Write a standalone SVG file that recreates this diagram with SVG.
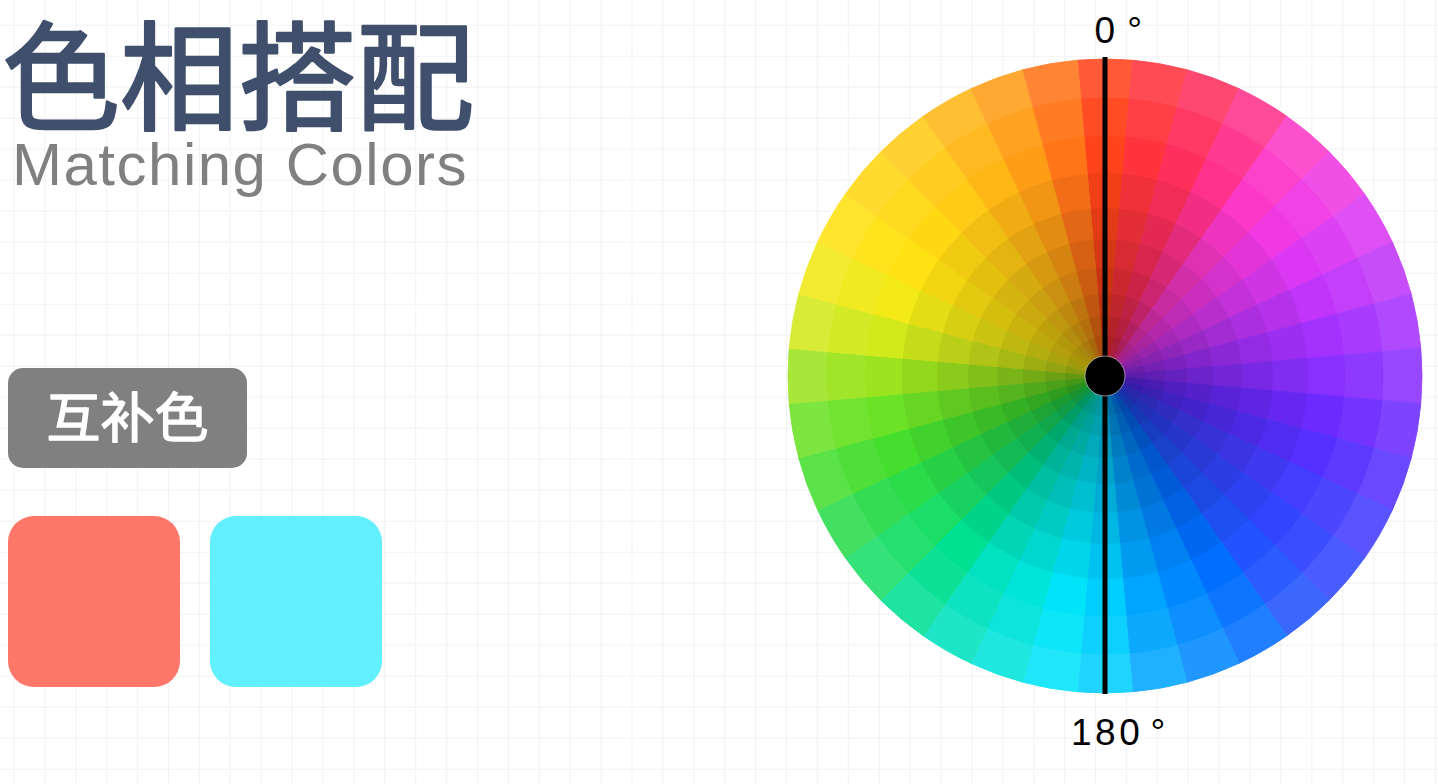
<svg xmlns="http://www.w3.org/2000/svg" xmlns:xlink="http://www.w3.org/1999/xlink" width="1438" height="784" viewBox="0 0 1438 784">
<style>
.cjk{font-family:"Noto Sans CJK SC","Noto Sans",sans-serif}
.lat{font-family:"Liberation Sans",Arial,sans-serif}
.deg{font-family:"Liberation Sans",Arial,sans-serif;font-size:37px;fill:#000}
.dark{fill:#000;fill-opacity:0.055}
</style>
<defs>
<pattern id="grid" x="13.5" y="24.8" width="30.9" height="31" patternUnits="userSpaceOnUse">
<path d="M0.5,0 V31 M0,0.5 H30.9" stroke="#F2F2F4" stroke-width="1" fill="none"/>
</pattern>
<path id="w" d="M0,0 L-27.63,-315.79 A317,317 0 0 1 27.63,-315.79 Z" fill="currentColor" stroke="currentColor" stroke-width="0.8" stroke-linejoin="round"/>
</defs>
<rect width="1438" height="784" fill="#FFFFFF"/>
<rect width="1438" height="784" fill="url(#grid)"/>

<g id="title">
<text class="cjk" x="2" y="121" font-size="118" font-weight="400" fill="#3F4F6C" stroke="#3F4F6C" stroke-width="2.6" stroke-linejoin="round">色相搭配</text>
</g>
<g id="subtitle">
<text class="lat" x="12" y="185" font-size="60" letter-spacing="1.5" fill="#808080">Matching Colors</text>
</g>

<g id="badge">
<rect x="8" y="368" width="239" height="100" rx="15" fill="#808080"/>
<text class="cjk" x="127.5" y="438" font-size="54" font-weight="400" fill="#FFFFFF" stroke="#FFFFFF" stroke-width="1.4" stroke-linejoin="round" text-anchor="middle">互补色</text>
</g>
<g id="swatch-red">
<rect x="8" y="516" width="172" height="171" rx="26" fill="#FF7769"/>
</g>
<g id="swatch-cyan">
<rect x="210" y="516" width="172" height="171" rx="26" fill="#62F0FF"/>
</g>

<g id="wheel" transform="translate(1105,376)">
<use xlink:href="#w" href="#w" style="color:#FF431A" transform="rotate(0)"/>
<use xlink:href="#w" href="#w" style="color:#FF343D" transform="rotate(10)"/>
<use xlink:href="#w" href="#w" style="color:#FF2F5C" transform="rotate(20)"/>
<use xlink:href="#w" href="#w" style="color:#FF318C" transform="rotate(30)"/>
<use xlink:href="#w" href="#w" style="color:#FC38C9" transform="rotate(40)"/>
<use xlink:href="#w" href="#w" style="color:#F038E4" transform="rotate(50)"/>
<use xlink:href="#w" href="#w" style="color:#DB38F3" transform="rotate(60)"/>
<use xlink:href="#w" href="#w" style="color:#C035F9" transform="rotate(70)"/>
<use xlink:href="#w" href="#w" style="color:#A531FF" transform="rotate(80)"/>
<use xlink:href="#w" href="#w" style="color:#892FFF" transform="rotate(90)"/>
<use xlink:href="#w" href="#w" style="color:#6C2AFF" transform="rotate(100)"/>
<use xlink:href="#w" href="#w" style="color:#552FFF" transform="rotate(110)"/>
<use xlink:href="#w" href="#w" style="color:#433DFF" transform="rotate(120)"/>
<use xlink:href="#w" href="#w" style="color:#3145FF" transform="rotate(130)"/>
<use xlink:href="#w" href="#w" style="color:#2153FF" transform="rotate(140)"/>
<use xlink:href="#w" href="#w" style="color:#006EFF" transform="rotate(150)"/>
<use xlink:href="#w" href="#w" style="color:#0089FF" transform="rotate(160)"/>
<use xlink:href="#w" href="#w" style="color:#00A5FF" transform="rotate(170)"/>
<use xlink:href="#w" href="#w" style="color:#00CEFF" transform="rotate(180)"/>
<use xlink:href="#w" href="#w" style="color:#00E4F9" transform="rotate(190)"/>
<use xlink:href="#w" href="#w" style="color:#00E4DB" transform="rotate(200)"/>
<use xlink:href="#w" href="#w" style="color:#00E2C0" transform="rotate(210)"/>
<use xlink:href="#w" href="#w" style="color:#00E093" transform="rotate(220)"/>
<use xlink:href="#w" href="#w" style="color:#1ADE67" transform="rotate(230)"/>
<use xlink:href="#w" href="#w" style="color:#2ADB4A" transform="rotate(240)"/>
<use xlink:href="#w" href="#w" style="color:#45DE2F" transform="rotate(250)"/>
<use xlink:href="#w" href="#w" style="color:#6CE226" transform="rotate(260)"/>
<use xlink:href="#w" href="#w" style="color:#9CE41F" transform="rotate(270)"/>
<use xlink:href="#w" href="#w" style="color:#D2E91C" transform="rotate(280)"/>
<use xlink:href="#w" href="#w" style="color:#F2E916" transform="rotate(290)"/>
<use xlink:href="#w" href="#w" style="color:#FFE211" transform="rotate(300)"/>
<use xlink:href="#w" href="#w" style="color:#FFD713" transform="rotate(310)"/>
<use xlink:href="#w" href="#w" style="color:#FFCB16" transform="rotate(320)"/>
<use xlink:href="#w" href="#w" style="color:#FFB716" transform="rotate(330)"/>
<use xlink:href="#w" href="#w" style="color:#FF9E16" transform="rotate(340)"/>
<use xlink:href="#w" href="#w" style="color:#FF7518" transform="rotate(350)"/>
<circle r="297.7" fill="none" stroke="#FFFFFF" stroke-opacity="0.12" stroke-width="39"/>
<circle r="259" fill="none" stroke="#FFFFFF" stroke-opacity="0.05" stroke-width="38"/>
<circle class="dark" r="203"/>
<circle class="dark" r="168"/>
<circle class="dark" r="137"/>
<circle class="dark" r="108"/>
<circle class="dark" r="82"/>
<circle class="dark" r="60"/>
<circle class="dark" r="40"/>
</g>

<g id="axis">
<rect x="1102.5" y="57" width="5" height="637" fill="#000000"/>
<circle cx="1105" cy="376" r="20" fill="#000000" stroke="#FFFFFF" stroke-opacity="0.5" stroke-width="1"/>
</g>

<g id="labels">
<text class="deg" x="1094.4" y="43" letter-spacing="1">0 °</text>
<text class="deg" x="1071" y="745" font-size="38" letter-spacing="3.5">180<tspan letter-spacing="-3"> </tspan>°</text>
</g>
</svg>
